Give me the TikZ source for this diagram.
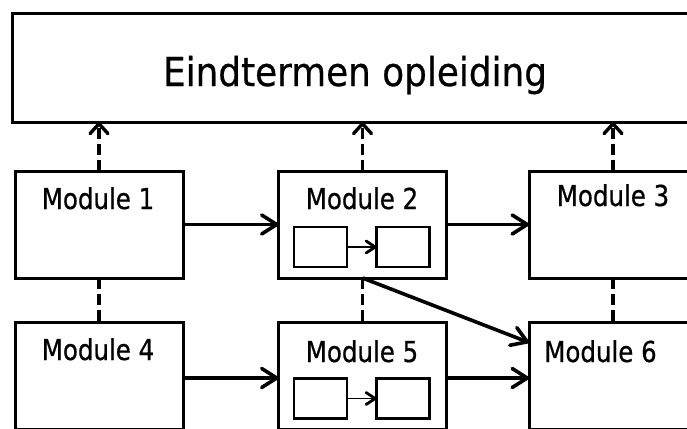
\documentclass[tikz,border=0pt]{standalone}
\usepackage{fontspec}
\newfontfamily\bigfont[FakeStretch=0.9,FakeBold=0.6]{DejaVu Sans}
\newfontfamily\modfont[FakeStretch=0.85,FakeBold=0.6]{DejaVu Sans}
\usetikzlibrary{arrows.meta,calc}
\begin{document}
\begin{tikzpicture}[x=1pt,y=-1pt,
  box/.style={draw, line width=3pt, fill=white, minimum width=168pt, minimum height=107pt, inner sep=0pt, outer sep=0pt},
  topbox/.style={draw, line width=3pt, fill=white, minimum width=686pt, minimum height=108pt, inner sep=0pt, outer sep=0pt},
  subbox/.style={draw, line width=2.8pt, fill=white, minimum width=53pt, minimum height=40pt, inner sep=0pt, outer sep=0pt},
  lbl/.style={font=\modfont\fontsize{28.8}{34}\selectfont, anchor=base, inner sep=0pt},
  biglbl/.style={font=\bigfont\fontsize{39.8}{48}\selectfont, anchor=base, inner sep=0pt},
  flow/.style={line width=3.6pt, -{Straight Barb[length=15pt,width=19pt,round]}},
  thinflow/.style={line width=1.8pt, -{Straight Barb[length=9pt,width=12pt,round,line width=2.8pt]}},
  uplink/.style={line width=3.4pt, dash pattern=on 11pt off 5pt, -{Straight Barb[length=10pt,width=18pt,round]}},
  vlink/.style={line width=3.4pt, dash pattern=on 11pt off 5pt}
]
\useasboundingbox (0,0) rectangle (687,428);
\clip (0,0) rectangle (687,428);
\fill[white] (0,0) rectangle (687,428);

\node[topbox] (top) at (355,68) {};
\node[biglbl] (toptext) at (355,86) {Eindtermen opleiding};

\node[box] (m1) at (99,224.5) {};
\node[box] (m2) at (362.5,224.5) {};
\node[box] (m3) at (613,224.5) {};
\node[box] (m4) at (99,376) {};
\node[box] (m5) at (362.5,376) {};
\node[box] (m6) at (613,376) {};

\node[lbl] (t1) at (98,209) {Module 1};
\node[lbl] (t2) at (362,209) {Module 2};
\node[lbl] (t3) at (613,206) {Module 3};
\node[lbl] (t4) at (98,360) {Module 4};
\node[lbl] (t5) at (362,362) {Module 5};
\node[lbl] (t6) at (600.5,362) {Module 6};

\node[subbox] (s21) at (320.5,247) {};
\node[subbox] (s22) at (403,247) {};
\node[subbox] (s51) at (320.5,398.5) {};
\node[subbox] (s52) at (403,398.5) {};

\draw[thinflow] (s21.east) -- (s22.west);
\draw[thinflow] (s51.east) -- (s52.west);

\draw[flow] (m1.east) -- (m2.west);
\draw[flow] (m2.east) -- (m3.west);
\draw[flow] ($(m4.east)+(0,2)$) -- ($(m5.west)+(0,2)$);
\draw[flow] ($(m5.east)+(0,2)$) -- ($(m6.west)+(0,2)$);
\draw[flow] (m2.south) -- ($(m6.north west)+(0,20)$);

\draw[uplink] (m1.north) -- (m1.north |- top.south);
\draw[uplink] (m2.north) -- (m2.north |- top.south);
\draw[uplink] (m3.north) -- (m3.north |- top.south);

\draw[vlink] (m1.south) -- (m4.north);
\draw[vlink] (m2.south) -- (m5.north);
\draw[vlink] (m3.south) -- (m6.north);
\end{tikzpicture}
\end{document}
